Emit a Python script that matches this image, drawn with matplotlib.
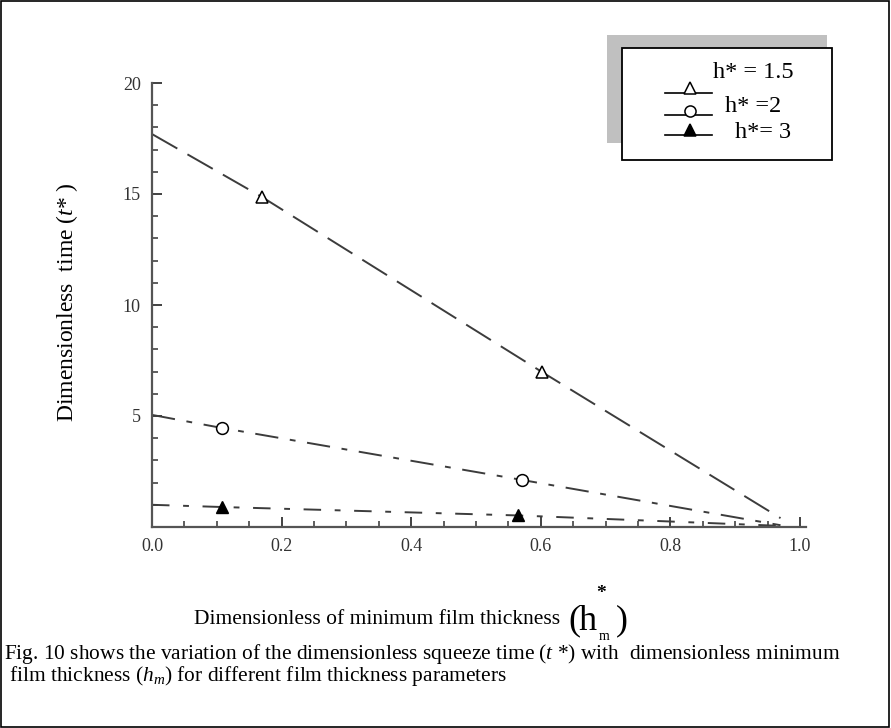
import numpy as np
import matplotlib.pyplot as plt
from matplotlib.patches import Rectangle
from matplotlib.lines import Line2D

plt.rcParams['font.family'] = ['Liberation Serif', 'DejaVu Serif']
plt.rcParams['mathtext.fontset'] = 'custom'
plt.rcParams['mathtext.rm'] = 'Liberation Serif'
plt.rcParams['mathtext.it'] = 'Liberation Serif:italic'

W, H = 891, 728

# values (markers sit on the 2nd and 3rd points)
hm_15 = [0.0, 0.17, 0.602, 0.97]
t_15 = [17.7, 14.86, 6.98, 0.4]
hm_2 = [0.0, 0.108, 0.571, 0.97]
t_2 = [5.05, 4.46, 2.12, 0.08]
hm_3 = [0.0, 0.108, 0.565, 0.97]
t_3 = [1.0, 0.9, 0.52, 0.05]

labels = ['h* = 1.5', 'h* =2', 'h*= 3']
xticks = [0.0, 0.2, 0.4, 0.6, 0.8, 1.0]
yticks = [5, 10, 15, 20]


def fx(px):
    return px / W


def fy(py):
    return 1 - py / H


fig = plt.figure(figsize=(W / 100, H / 100), dpi=100)
ax = fig.add_axes([fx(152), fy(527), 0.7345, (527 - 83) / H])

lc = '#3c3c3c'
ax.plot(hm_15, t_15, color=lc, lw=1.4, dashes=(15, 6))
ax.plot(hm_2, t_2, color=lc, lw=1.4, dashes=(12, 6, 3, 6))
ax.plot(hm_3, t_3, color=lc, lw=1.4, dashes=(9, 7, 3, 7))

ax.plot(hm_15, t_15, ls='none', marker='^', mfc='white', mec='black', ms=9, mew=1.1, markevery=[1, 2])
ax.plot(hm_2, t_2, ls='none', marker='o', mfc='white', mec='black', ms=8.5, mew=1.1, markevery=[1, 2])
ax.plot(hm_3, t_3, ls='none', marker='^', mfc='black', mec='black', ms=9, markevery=[1, 2])

ax.set_xlim(0, 1.01)
ax.set_ylim(0, 20)
for s in ['top', 'right']:
    ax.spines[s].set_visible(False)
for s in ['left', 'bottom']:
    ax.spines[s].set_color('#555555')
    ax.spines[s].set_linewidth(1.6)
ax.set_xticks(xticks)
ax.set_xticklabels(['%.1f' % v for v in xticks])
ax.set_xticks(np.arange(0.05, 1.0, 0.05), minor=True)
ax.set_yticks(yticks)
ax.set_yticks([v for v in range(1, 20) if v % 5], minor=True)
ax.tick_params(direction='in', length=7, width=1.3, labelsize=13, color='#333333',
               labelcolor='#333333', pad=8)
ax.tick_params(which='minor', direction='in', length=4, width=1.1, color='#333333')

ax.set_ylabel('Dimensionless  time ($t$* )', fontsize=17, va='center')
ax.yaxis.set_label_coords((67 - 152) / 654, (527 - 302) / 444)

# x label built from pieces so the (h*m) part can be larger
fig.text(fx(194), fy(620), 'Dimensionless of minimum film thickness', ha='left', va='center',
         fontsize=15.5)
fig.text(fx(568), fy(621), '(', ha='left', va='center', fontsize=26)
fig.text(fx(579), fy(621), 'h', ha='left', va='center', fontsize=26)
fig.text(fx(601), fy(593), '*', ha='center', va='center', fontsize=14, fontweight='bold')
fig.text(fx(604), fy(637), 'm', ha='center', va='center', fontsize=10)
fig.text(fx(616), fy(621), ')', ha='left', va='center', fontsize=26)

fig.text(fx(4), fy(654), 'Fig. 10 shows the variation of the dimensionless squeeze time ($t$ *) with  dimensionless minimum',
         ha='left', va='center', fontsize=15.4)
fig.text(fx(4), fy(676), ' film thickness ($h_m$) for different film thickness parameters',
         ha='left', va='center', fontsize=15.4)

# legend box with grey shadow
fig.patches.append(Rectangle((fx(607), fy(143)), (827 - 607) / W, (143 - 35) / H,
                             transform=fig.transFigure, facecolor='#c0c0c0', edgecolor='none'))
fig.patches.append(Rectangle((fx(622), fy(160)), (832 - 622) / W, (160 - 48) / H,
                             transform=fig.transFigure, facecolor='white', edgecolor='black', lw=1.3))
line_y = [93, 115, 135]
mark_y = [88, 111, 130]
text_y = [73, 107, 133]
text_x = [713, 725, 735]
mks = [('^', 'white'), ('o', 'white'), ('^', 'black')]
for ly, my, ty, tx, (m, fc), lab in zip(line_y, mark_y, text_y, text_x, mks, labels):
    fig.lines.append(Line2D([fx(665), fx(712)], [fy(ly), fy(ly)], transform=fig.transFigure,
                            color='black', lw=1.2))
    fig.lines.append(Line2D([fx(690)], [fy(my)], transform=fig.transFigure, marker=m,
                            mfc=fc, mec='black', ms=8, mew=1.1, ls='none'))
    fig.text(fx(tx), fy(ty), lab, ha='left', va='center', fontsize=17.5)

# outer frame
fig.patches.append(Rectangle((0.001, 0.001), 0.997, 0.997, transform=fig.transFigure,
                             facecolor='none', edgecolor='black', lw=1.2))

fig.savefig('out.png', dpi=100)
